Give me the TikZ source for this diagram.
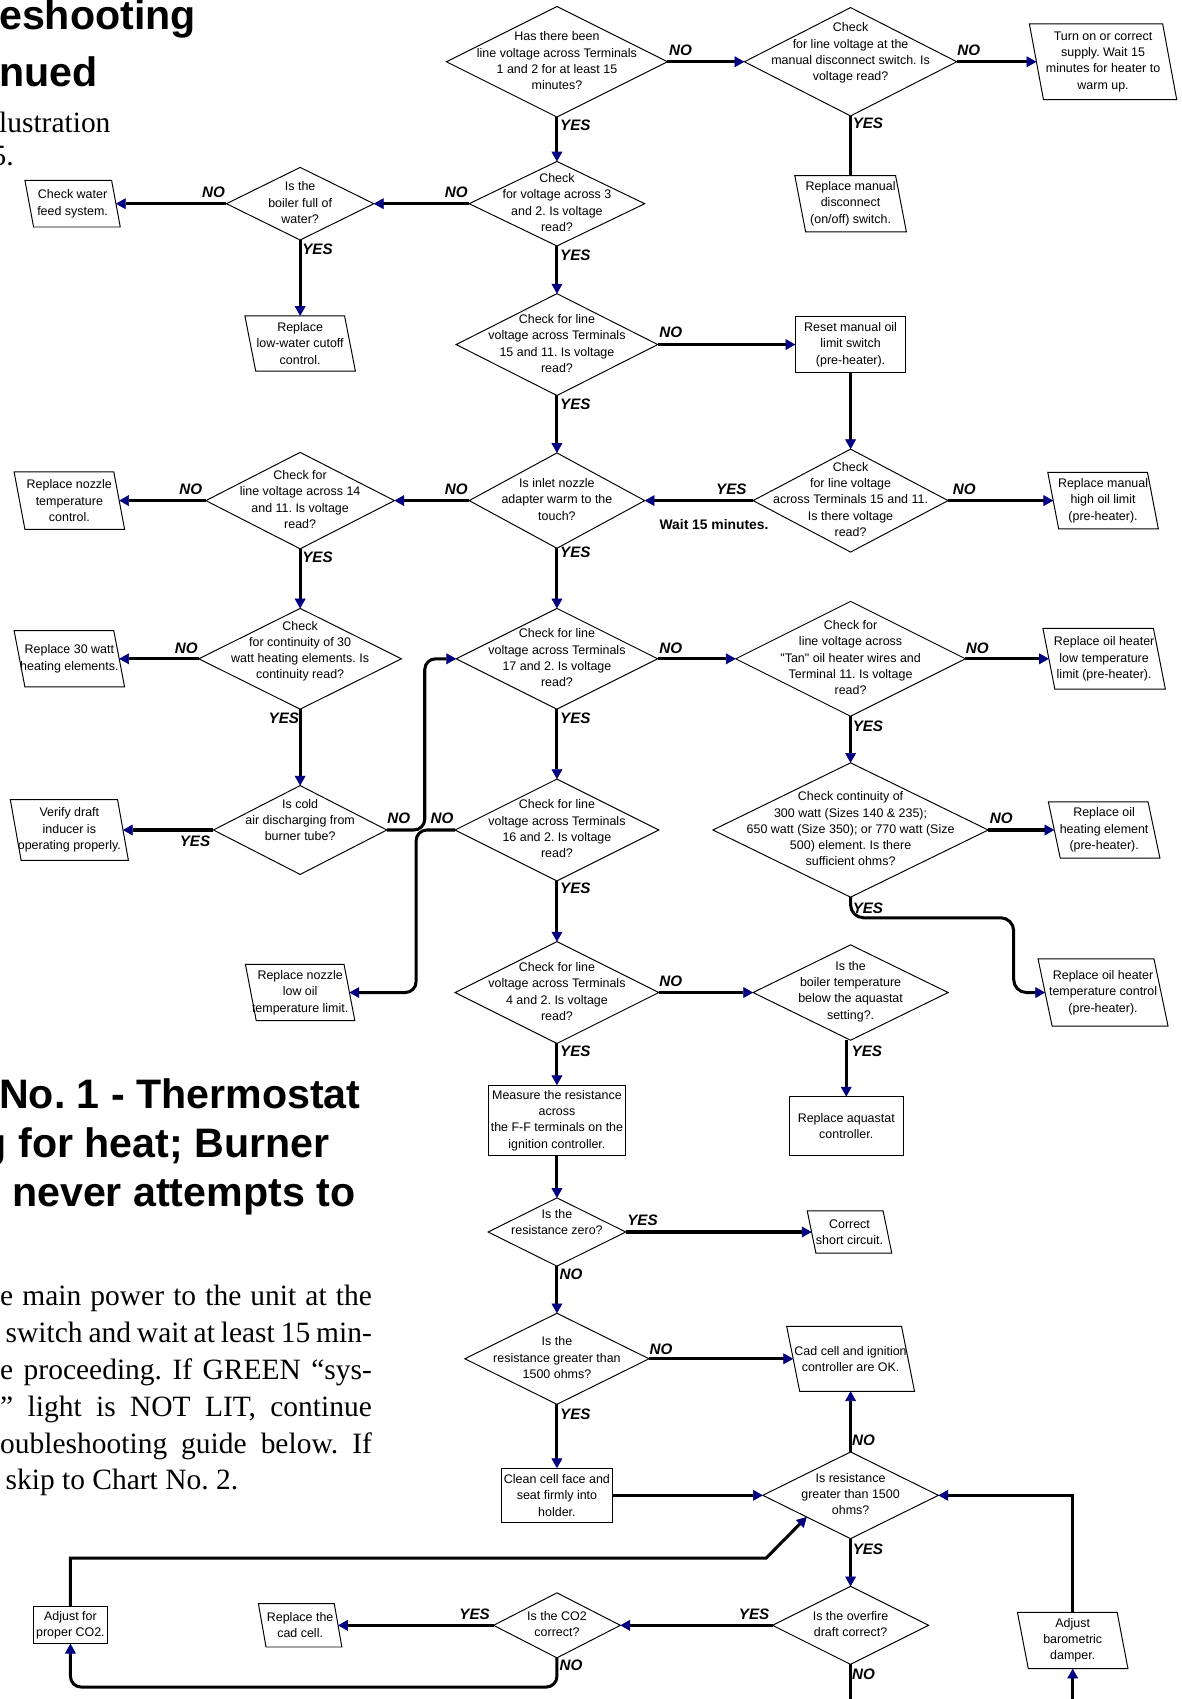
\documentclass[tikz,border=0pt]{standalone}
\usepackage{fontspec}
\setmainfont{Liberation Serif}
\newfontfamily\arialf{Liberation Sans}
\usetikzlibrary{arrows.meta,calc,shapes.geometric}
\definecolor{tipblue}{RGB}{0,0,128}
\frenchspacing
\newcommand\drawpara[2]{\draw[pline] ($(#1.north west)+(-#2/2,0)$) -- ($(#1.north east)+(-#2/2,0)$) -- ($(#1.south east)+(#2/2,0)$) -- ($(#1.south west)+(#2/2,0)$) -- cycle;}
\begin{document}
\begin{tikzpicture}[x=1pt,y=-1pt,
  flow/.style={line width=2.8pt, -{Triangle[length=9pt,width=10pt,line width=0.6pt,color=tipblue]}},
  plain/.style={line width=2.8pt},
  dia/.style 2 args={diamond, draw, line width=0.9pt, fill=white, inner sep=0pt, outer sep=0pt, minimum width=#1pt, minimum height=#2pt},
  boxr/.style 2 args={rectangle, draw, line width=0.9pt, fill=white, inner sep=0pt, outer sep=0pt, minimum width=#1pt, minimum height=#2pt, font=\arialf\fontsize{11.5}{15}\selectfont, align=center},
  pbox/.style 2 args={rectangle, inner sep=0pt, outer sep=0pt, minimum width=#1pt, minimum height=#2pt, font=\arialf\fontsize{11.5}{15}\selectfont, align=center},
  pline/.style={line width=0.9pt},
  tx/.style={font=\arialf\fontsize{11.5}{15}\selectfont, align=center, inner sep=0pt},
  lbl/.style={font=\arialf\bfseries\itshape\fontsize{14}{16}\selectfont, inner sep=0pt},
  waitlbl/.style={font=\arialf\bfseries\fontsize{12.8}{14}\selectfont, inner sep=0pt},
  head/.style={font=\arialf\bfseries\fontsize{38}{44}\selectfont, inner sep=0pt, anchor=base west},
  body/.style={font=\fontsize{27.2}{34}\selectfont, inner sep=0pt, anchor=base west}
]
\useasboundingbox (0,0) rectangle (1090,1568);
\fill[white] (0,0) rectangle (1090,1568);

% ---------- page text ----------
\node[head] (h1) at (-1,27) {eshooting};
\node[head] (h2) at (-1,80) {nued};
\node[body] (h3) at (-1,122) {lustration};
\node[body] (h4) at (-8,153) {5.};
\node[head] (h5) at (-1,1023) {No. 1 - Thermostat};
\node[head] (h6) at (-17,1068) {g for heat; Burner};
\node[head] (h7) at (11,1113) {never attempts to};
\node[body] (p1) at (0,1205) {\makebox[343pt][s]{e main power to the unit at the}};
\node[body] (p2) at (5,1239) {\makebox[338pt][s]{switch and wait at least 15 min-}};
\node[body] (p3) at (0,1273) {\makebox[343pt][s]{e proceeding. If GREEN “sys-}};
\node[body] (p4) at (0,1307) {\makebox[343pt][s]{” light is NOT LIT, continue}};
\node[body] (p5) at (0,1341) {\makebox[343pt][s]{oubleshooting guide below. If}};
\node[body] (p6) at (5,1375) {skip to Chart No. 2.};

% ---------- diamonds ----------
\node[dia={204}{102}] (d1) at (514,57) {};
\node[tx] (d1t) at (514,56) {Has there been\\line voltage across Terminals\\1 and 2 for at least 15\\minutes?};
\node[dia={196}{100}] (d2) at (785,57) {};
\node[tx] (d2t) at (785,49) {Check\\for line voltage at the\\manual disconnect switch. Is\\voltage read?};
\node[dia={162}{78}] (d3) at (514,188) {};
\node[tx] (d3t) at (514,187) {Check\\for voltage across 3\\and 2. Is voltage\\read?};
\node[dia={136}{67}] (d4) at (277,188) {};
\node[tx] (d4t) at (277,187) {Is the\\boiler full of\\water?};
\node[dia={186}{94}] (d5) at (514,318) {};
\node[tx] (d5t) at (514,317) {Check for line\\voltage across Terminals\\15 and 11. Is voltage\\read?};
\node[dia={180}{95}] (d6) at (785,462) {};
\node[tx] (d6t) at (785,461) {Check\\for line voltage\\across Terminals 15 and 11.\\Is there voltage\\read?};
\node[dia={162}{88}] (d7) at (514,462) {};
\node[tx] (d7t) at (514,461) {Is inlet nozzle\\adapter warm to the\\touch?};
\node[dia={174}{89}] (d8) at (277,462) {};
\node[tx] (d8t) at (277,461) {Check for\\line voltage across 14\\and 11. Is voltage\\read?};
\node[dia={187}{93}] (d9) at (277,608) {};
\node[tx] (d9t) at (277,601) {Check\\for continuity of 30\\watt heating elements. Is\\continuity read?};
\node[dia={186}{93}] (d10) at (514,608) {};
\node[tx] (d10t) at (514,607) {Check for line\\voltage across Terminals\\17 and 2. Is voltage\\read?};
\node[dia={212}{106}] (d12) at (785,608) {};
\node[tx] (d12t) at (785,607) {Check for\\line voltage across\\"Tan" oil heater wires and\\Terminal 11. Is voltage\\read?};
\node[dia={160}{82}] (d11) at (277,766) {};
\node[tx] (d11t) at (277,757) {Is cold\\air discharging from\\burner tube?};
\node[dia={188}{94}] (d13) at (514,766) {};
\node[tx] (d13t) at (514,765) {Check for line\\voltage across Terminals\\16 and 2. Is voltage\\read?};
\node[dia={254}{124}] (d14) at (785,766) {};
\node[tx] (d14t) at (785,765) {Check continuity of\\300 watt (Sizes 140 \& 235);\\650 watt (Size 350); or 770 watt (Size\\500) element. Is there\\sufficient ohms?};
\node[dia={188}{94}] (d16) at (514,916) {};
\node[tx] (d16t) at (514,915) {Check for line\\voltage across Terminals\\4 and 2. Is voltage\\read?};
\node[dia={180}{88}] (d17) at (785,916) {};
\node[tx] (d17t) at (785,915) {Is the\\boiler temperature\\below the aquastat\\setting?.};
\node[dia={127}{63}] (d18) at (514,1137) {};
\node[tx] (d18t) at (514,1128) {Is the\\resistance zero?};
\node[dia={170}{84}] (d19) at (514,1254) {};
\node[tx] (d19t) at (514,1253) {Is the\\resistance greater than\\1500 ohms?};
\node[dia={162}{80}] (d20) at (785,1380) {};
\node[tx] (d20t) at (785,1379) {Is resistance\\greater than 1500\\ohms?};
\node[dia={144}{72}] (d21) at (785,1500) {};
\node[tx] (d21t) at (785,1499) {Is the overfire\\draft correct?};
\node[dia={117}{60}] (d22) at (514,1500) {};
\node[tx] (d22t) at (514,1499) {Is the CO2\\correct?};

% ---------- boxes ----------
\node[pbox={123}{70}] (b1) at (1018,57) {Turn on or correct\\supply. Wait 15\\minutes for heater to\\warm up.};
\drawpara{b1}{13}
\node[pbox={93}{52}] (r1) at (785,188) {Replace manual\\disconnect\\(on/off) switch.};
\drawpara{r1}{10}
\node[pbox={80}{43}] (b2) at (67,188) {Check water\\feed system.};
\drawpara{b2}{8}
\node[pbox={92}{51}] (r2) at (277,317) {Replace\\low-water cutoff\\control.};
\drawpara{r2}{10}
\node[boxr={102}{51}] (b3) at (785,318) {Reset manual oil\\limit switch\\(pre-heater).};
\node[pbox={92}{52}] (b4) at (1018,462) {Replace manual\\high oil limit\\(pre-heater).};
\drawpara{b4}{10}
\node[pbox={92}{53}] (b5) at (64,462) {Replace nozzle\\temperature\\control.};
\drawpara{b5}{10}
\node[pbox={92}{52}] (b6) at (64,608) {Replace 30 watt\\heating elements.};
\drawpara{b6}{10}
\node[pbox={102}{56}] (b7) at (1019,608) {Replace oil heater\\low temperature\\limit (pre-heater).};
\drawpara{b7}{11}
\node[pbox={99}{56}] (b8) at (64,766) {Verify draft\\inducer is\\operating properly.};
\drawpara{b8}{10}
\node[pbox={92}{52}] (b10) at (1019,766) {Replace oil\\heating element\\(pre-heater).};
\drawpara{b10}{11}
\node[pbox={91}{52}] (b9) at (277,916) {Replace nozzle\\low oil\\temperature limit.};
\drawpara{b9}{10}
\node[pbox={107}{62}] (b11) at (1018,916) {Replace oil heater\\temperature control\\(pre-heater).};
\drawpara{b11}{13}
\node[boxr={105}{54}] (b12) at (781,1039) {Replace aquastat\\controller.};
\node[boxr={127}{65}] (b13) at (514,1034) {Measure the resistance\\across\\the F-F terminals on the\\ignition controller.};
\node[pbox={70}{39}] (b14) at (784,1137) {Correct\\short circuit.};
\drawpara{b14}{8}
\node[pbox={106}{60}] (b15) at (785,1254) {Cad cell and ignition\\controller are OK.};
\drawpara{b15}{12}
\node[boxr={102}{50}] (b16) at (514,1380) {Clean cell face and\\seat firmly into\\holder.};
\node[pbox={92}{52}] (b17) at (990,1514) {Adjust\\barometric\\damper.};
\drawpara{b17}{10}
\node[pbox={70}{40}] (b18) at (277,1500) {Replace the\\cad cell.};
\drawpara{b18}{7}
\node[boxr={69}{34}] (b19) at (65,1500) {Adjust for\\proper CO2.};

\coordinate (offa) at (785,1600);
\coordinate (offb) at (990,1600);

% ---------- connectors ----------
\draw[flow] (d1.east) -- (d2.west);
\draw[flow] (d2.east) -- (b1.west);
\draw[flow] (d1.south) -- (d3.north);
\draw[plain] (d2.south) -- (r1.north);
\draw[flow] (d3.west) -- (d4.east);
\draw[flow] (d4.west) -- (b2.east);
\draw[flow] (d4.south) -- (r2.north);
\draw[flow] (d3.south) -- (d5.north);
\draw[flow] (d5.east) -- (b3.west);
\draw[flow] (b3.south) -- (d6.north);
\draw[flow] (d5.south) -- (d7.north);
\draw[flow] (d6.west) -- (d7.east);
\draw[flow] (d6.east) -- (b4.west);
\draw[flow] (d7.west) -- (d8.east);
\draw[flow] (d8.west) -- (b5.east);
\draw[flow] (d8.south) -- (d9.north);
\draw[flow] (d7.south) -- (d10.north);
\draw[flow] (d9.west) -- (b6.east);
\draw[flow] (d9.south) -- (d11.north);
\draw[flow] (d10.east) -- (d12.west);
\draw[flow] (d12.east) -- (b7.west);
\draw[flow] (d10.south) -- (d13.north);
\draw[flow] (d12.south) -- (d14.north);
\draw[flow] (d11.west) -- (b8.east);
\draw[flow, rounded corners=10pt] (d11.east) -- ++(35,0) |- (d10.west);
\draw[flow, rounded corners=10pt] (d13.west) -- ++(-36,0) |- (b9.east);
\draw[flow] (d13.south) -- (d16.north);
\draw[flow] (d14.east) -- (b10.west);
\draw[flow, rounded corners=12pt] (d14.south) -- ++(0,19) -| ($(b11.west)+(-29,0)$) -- (b11.west);
\draw[flow] (d16.east) -- (d17.west);
\draw[flow] (d17.south -| b12.north) -- (b12.north);
\draw[flow] (d16.south) -- (b13.north);
\draw[flow] (b13.south) -- (d18.north);
\draw[flow] (d18.east) -- (b14.west);
\draw[flow] (d18.south) -- (d19.north);
\draw[flow] (d19.east) -- (b15.west);
\draw[flow] (d19.south) -- (b16.north);
\draw[flow] (b16.east) -- (d20.west);
\draw[flow] (d20.north) -- (b15.south);
\draw[flow] (b17.north) |- (d20.east);
\draw[flow] (d20.south) -- (d21.north);
\draw[flow] (d21.west) -- (d22.east);
\draw[plain] (d21.south) -- (offa);
\draw[flow] (offb) -- (b17.south);
\draw[flow] (d22.west) -- (b18.east);
\draw[flow, rounded corners=10pt] (d22.south) -- ++(0,27) -| (b19.south);
\draw[flow] (b19.north) |- (707,1438) -- ($(d20.west)!0.5!(d20.south)$);

% ---------- labels ----------
\node[lbl] (l1) at (628,46) {NO};
\node[lbl] (l2) at (894,46) {NO};
\node[lbl] (l3) at (531,116) {YES};
\node[lbl] (l4) at (801,114) {YES};
\node[lbl] (l5) at (421,177) {NO};
\node[lbl] (l6) at (197,177) {NO};
\node[lbl] (l7) at (293,230) {YES};
\node[lbl] (l8) at (531,236) {YES};
\node[lbl] (l9) at (619,307) {NO};
\node[lbl] (l10) at (531,373) {YES};
\node[lbl] (l11) at (675,452) {YES};
\node[waitlbl] (l12) at (659,484) {Wait 15 minutes.};
\node[lbl] (l13) at (890,452) {NO};
\node[lbl] (l14) at (421,452) {NO};
\node[lbl] (l15) at (176,452) {NO};
\node[lbl] (l16) at (293,514) {YES};
\node[lbl] (l17) at (531,510) {YES};
\node[lbl] (l18) at (172,598) {NO};
\node[lbl] (l19) at (619,598) {NO};
\node[lbl] (l20) at (902,598) {NO};
\node[lbl] (l21) at (262,663) {YES};
\node[lbl] (l22) at (531,663) {YES};
\node[lbl] (l23) at (801,670) {YES};
\node[lbl] (l24) at (368,755) {NO};
\node[lbl] (l25) at (408,755) {NO};
\node[lbl] (l26) at (924,755) {NO};
\node[lbl] (l27) at (180,776) {YES};
\node[lbl] (l28) at (531,820) {YES};
\node[lbl] (l29) at (801,838) {YES};
\node[lbl] (l30) at (619,906) {NO};
\node[lbl] (l31) at (531,970) {YES};
\node[lbl] (l32) at (800,970) {YES};
\node[lbl] (l33) at (593,1126) {YES};
\node[lbl] (l34) at (527,1176) {NO};
\node[lbl] (l35) at (610,1245) {NO};
\node[lbl] (l36) at (531,1305) {YES};
\node[lbl] (l37) at (797,1329) {NO};
\node[lbl] (l38) at (801,1430) {YES};
\node[lbl] (l39) at (438,1490) {YES};
\node[lbl] (l40) at (696,1490) {YES};
\node[lbl] (l41) at (527,1537) {NO};
\node[lbl] (l42) at (797,1545) {NO};
\end{tikzpicture}
\end{document}
